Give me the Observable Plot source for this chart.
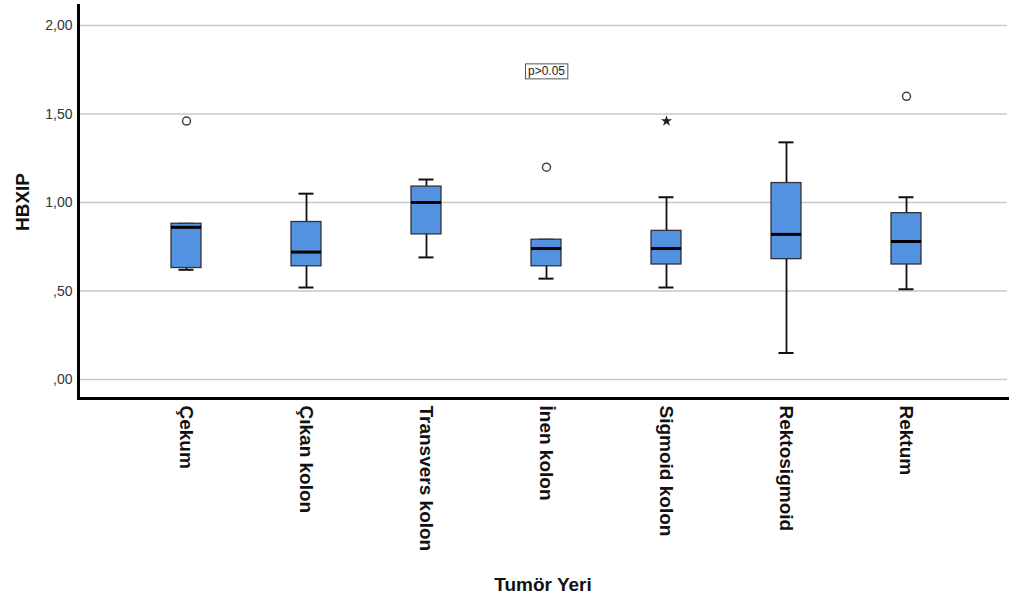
<!DOCTYPE html>
<html>
<head>
<meta charset="utf-8">
<script src="https://cdn.jsdelivr.net/npm/d3@7"></script>
<script src="https://cdn.jsdelivr.net/npm/@observablehq/plot@0.6"></script>
<style>
  html, body { margin: 0; padding: 0; background: white; }
  #chart { width: 1009px; height: 599px; }
</style>
</head>
<body>
<div id="chart"></div>
<script>
// ---- data ----
const categories = ["Çekum", "Çıkan kolon", "Transvers kolon", "İnen kolon", "Sigmoid kolon", "Rektosigmoid", "Rektum"];
const whiskerLow  = [0.62, 0.52, 0.69, 0.57, 0.52, 0.15, 0.51];
const q1          = [0.63, 0.64, 0.82, 0.64, 0.65, 0.68, 0.65];
const median      = [0.86, 0.72, 1.00, 0.74, 0.74, 0.82, 0.78];
const q3          = [0.88, 0.89, 1.09, 0.79, 0.84, 1.11, 0.94];
const whiskerHigh = [0.88, 1.05, 1.13, 0.79, 1.03, 1.34, 1.03];

const outlierCats = ["Çekum", "İnen kolon", "Rektum"];
const outlierVals = [1.46, 1.20, 1.60];
const extremeCats = ["Sigmoid kolon"];
const extremeVals = [1.46];

const annotCat = ["İnen kolon"];
const annotVal = [1.74];
const annotText = ["p>0.05"];

const yTicks = [0, 0.5, 1, 1.5, 2];
const yDomain = [-0.107, 2.113];
const yLabel = "HBXIP";
const xLabel = "Tumör Yeri";

// ---- build tables ----
const rows = categories.map((c, i) => ({cat: c, lo: whiskerLow[i], q1: q1[i], med: median[i], q3: q3[i], hi: whiskerHigh[i]}));
const outliers = outlierCats.map((c, i) => ({cat: c, v: outlierVals[i]}));
const extremes = extremeCats.map((c, i) => ({cat: c, v: extremeVals[i]}));
const annots = annotCat.map((c, i) => ({cat: c, v: annotVal[i], t: annotText[i]}));

const fmt = d => d3.format(".2f")(d).replace(".", ",").replace(/^0/, "");

const chart = Plot.plot({
  width: 1009,
  height: 599,
  marginLeft: 78,
  marginRight: 2,
  marginTop: 5,
  marginBottom: 201,
  style: {fontFamily: "'Liberation Sans', Arial, sans-serif", background: "white", color: "#222"},
  x: {type: "band", domain: categories, paddingInner: 0.75, paddingOuter: 0.7, insetLeft: 7},
  y: {domain: yDomain},
  marks: [
    Plot.gridY(yTicks, {stroke: "#c8c8c8", strokeOpacity: 1, strokeWidth: 1.5}),
    Plot.ruleX(rows, {x: "cat", y1: "lo", y2: "hi", stroke: "#111", strokeWidth: 1.8}),
    Plot.tickY(rows, {x: "cat", y: "lo", stroke: "#111", strokeWidth: 2, insetLeft: 7.5, insetRight: 7.5}),
    Plot.tickY(rows, {x: "cat", y: "hi", stroke: "#111", strokeWidth: 2, insetLeft: 7.5, insetRight: 7.5}),
    Plot.barY(rows, {x: "cat", y1: "q1", y2: "q3", fill: "#5391e1", stroke: "#333", strokeWidth: 1.3}),
    Plot.tickY(rows, {x: "cat", y: "med", stroke: "#000", strokeWidth: 3}),
    Plot.dot(outliers, {x: "cat", y: "v", r: 4, stroke: "#444", strokeWidth: 1.5, fill: "white"}),
    Plot.dot(extremes, {x: "cat", y: "v", symbol: "star", r: 3.5, fill: "#222", stroke: "none"}),
    Plot.text(annots, {x: "cat", y: "v", text: "t", fontSize: 12, fill: "#222"}),
    Plot.axisY(yTicks, {tickSize: 0, tickPadding: 6, tickFormat: fmt, fontSize: 14, fill: "#333", label: null}),
    Plot.axisX({tickSize: 0, tickPadding: 7, tickRotate: 90, fontSize: 19, fontWeight: "bold", fill: "#111",
      label: xLabel, labelAnchor: "center", labelOffset: 192, labelArrow: "none"}),
    Plot.frame({anchor: "left", stroke: "#000", strokeWidth: 3}),
    Plot.frame({anchor: "bottom", stroke: "#000", strokeWidth: 3}),
    Plot.text([yLabel], {frameAnchor: "left", rotate: -90, dx: -56, fontSize: 19, fontWeight: "bold", textAnchor: "middle", lineAnchor: "middle", fill: "#111"})
  ]
});

document.getElementById("chart").appendChild(chart);

// draw a box around the annotation text
chart.querySelectorAll("text").forEach(t => {
  if (annotText.includes(t.textContent)) {
    const b = t.getBBox();
    const rect = document.createElementNS("http://www.w3.org/2000/svg", "rect");
    rect.setAttribute("x", b.x - 2.5);
    rect.setAttribute("y", b.y - 0.5);
    rect.setAttribute("width", b.width + 5);
    rect.setAttribute("height", b.height + 1);
    rect.setAttribute("fill", "white");
    rect.setAttribute("stroke", "#555");
    rect.setAttribute("stroke-width", 1);
    if (t.getAttribute("transform")) rect.setAttribute("transform", t.getAttribute("transform"));
    t.parentNode.insertBefore(rect, t);
  }
});
</script>
</body>
</html>
